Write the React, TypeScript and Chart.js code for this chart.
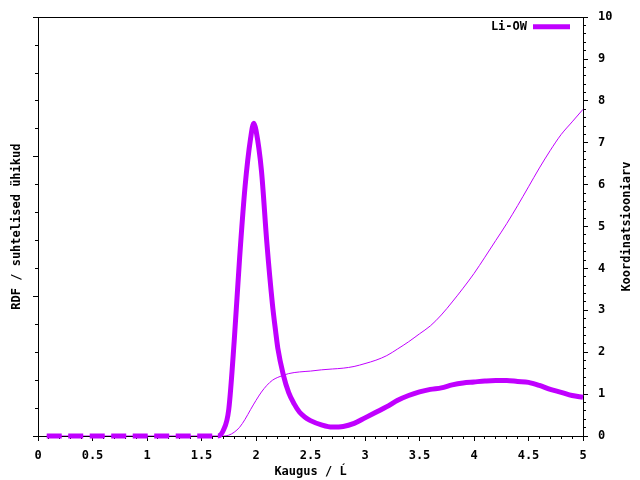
import React, { useEffect, useRef } from 'react';
import { Chart, registerables } from 'chart.js';

Chart.register(...registerables);

// ---- data ----
const rdfLabel = 'Li-OW';
const xTitle = 'Kaugus / Ĺ';
const leftTitle = 'RDF / suhtelised ühikud';
const rightTitle = 'Koordinatsiooniarv';

const rdfDistance = [
  0.08, 0.5, 1.0, 1.5, 1.65, 1.70, 1.75, 1.80, 1.85, 1.90, 1.95, 1.98, 2.00, 2.05, 2.10, 2.15, 2.18,
  2.20, 2.25, 2.30, 2.35, 2.40, 2.45, 2.50, 2.60, 2.70, 2.80, 2.90, 3.00, 3.10, 3.20, 3.30, 3.40,
  3.50, 3.60, 3.70, 3.80, 3.90, 4.00, 4.10, 4.20, 4.30, 4.40, 4.50, 4.60, 4.70, 4.80, 4.90, 5.00,
];
const rdfValues = [
  0, 0, 0, 0, 0, 0.04, 0.19, 0.68, 1.28, 1.79, 2.13, 2.24, 2.19, 1.90, 1.38, 0.95, 0.75,
  0.63, 0.44, 0.31, 0.23, 0.17, 0.135, 0.11, 0.08, 0.064, 0.068, 0.09, 0.13, 0.17, 0.21, 0.256, 0.29,
  0.316, 0.334, 0.345, 0.366, 0.38, 0.387, 0.394, 0.398, 0.398, 0.391, 0.384, 0.362, 0.334, 0.313, 0.29, 0.277,
];

const cnDistance = [
  0.08, 1.0, 1.70, 1.75, 1.80, 1.85, 1.90, 1.95, 2.00, 2.05, 2.10, 2.15, 2.20, 2.30, 2.40, 2.50,
  2.60, 2.70, 2.80, 2.90, 3.00, 3.10, 3.20, 3.30, 3.40, 3.50, 3.60, 3.70, 3.80, 3.90, 4.00, 4.10,
  4.20, 4.30, 4.40, 4.50, 4.60, 4.70, 4.80, 4.90, 5.00,
];
const cnValues = [
  0, 0, 0, 0.02, 0.09, 0.21, 0.40, 0.63, 0.85, 1.05, 1.21, 1.33, 1.40, 1.49, 1.53, 1.55,
  1.58, 1.60, 1.62, 1.66, 1.73, 1.81, 1.92, 2.08, 2.25, 2.44, 2.63, 2.89, 3.20, 3.53, 3.88, 4.27,
  4.67, 5.07, 5.50, 5.95, 6.40, 6.82, 7.20, 7.50, 7.80,
];

const PURPLE = '#c000ff';
const FONT_FAMILY = '"DejaVu Sans Mono", monospace';
const FONT_SIZE = 12;

export default function App() {
  const canvasRef = useRef<HTMLCanvasElement | null>(null);

  useEffect(() => {
    document.body.style.margin = '0';
    const canvas = canvasRef.current;
    if (!canvas) return;

    const font = { family: FONT_FAMILY, size: FONT_SIZE, weight: 'bold' as const };

    const overlay = {
      id: 'overlay',
      afterDraw(chart: any) {
        const { ctx, chartArea } = chart;
        const ds = chart.data.datasets[0];
        ctx.save();
        ctx.font = `bold ${FONT_SIZE}px ${FONT_FAMILY}`;
        ctx.fillStyle = '#000';
        // legend
        const lineRight = chartArea.right - 13;
        const lineLeft = lineRight - 37;
        const ly = chartArea.top + 9.5;
        ctx.strokeStyle = ds.borderColor;
        ctx.lineWidth = 5;
        ctx.lineCap = 'butt';
        ctx.beginPath();
        ctx.moveTo(lineLeft, ly);
        ctx.lineTo(lineRight, ly);
        ctx.stroke();
        ctx.textAlign = 'right';
        ctx.textBaseline = 'middle';
        ctx.fillText(ds.label, lineLeft - 6, ly);
        // right axis title, reading upward
        ctx.translate(chart.width - 13, (chartArea.top + chartArea.bottom) / 2);
        ctx.rotate(-Math.PI / 2);
        ctx.textAlign = 'center';
        ctx.fillText(rightTitle, 0, 0);
        ctx.restore();
      },
    };

    const minorGrid = { drawOnChartArea: false, tickLength: 3, color: '#000', tickColor: '#000' };
    const majorGrid = { drawOnChartArea: false, tickLength: 5, color: '#000', tickColor: '#000' };
    const border = { display: true, color: '#000', width: 1 };

    const chart = new Chart(canvas, {
      type: 'line',
      data: {
        datasets: [
          {
            label: rdfLabel,
            data: rdfDistance.map((x, i) => ({ x, y: rdfValues[i] })),
            xAxisID: 'x',
            yAxisID: 'y',
            borderColor: PURPLE,
            backgroundColor: PURPLE,
            borderWidth: 5,
            pointRadius: 0,
            fill: false,
            clip: false,
            cubicInterpolationMode: 'monotone',
            borderCapStyle: 'butt',
            segment: {
              borderDash: (c: any) =>
                c.p0.parsed.y === 0 && c.p1.parsed.y === 0 ? [15, 6.5] : undefined,
            },
          },
          {
            label: rightTitle,
            data: cnDistance.map((x, i) => ({ x, y: cnValues[i] })),
            xAxisID: 'x',
            yAxisID: 'y1',
            borderColor: PURPLE,
            backgroundColor: PURPLE,
            borderWidth: 1,
            pointRadius: 0,
            fill: false,
            cubicInterpolationMode: 'monotone',
          },
        ],
      },
      options: {
        responsive: false,
        animation: false,
        devicePixelRatio: 1,
        layout: { padding: { top: 14, left: 0, right: 0, bottom: 0 } },
        plugins: {
          legend: { display: false },
          tooltip: { enabled: false },
        },
        scales: {
          x: {
            type: 'linear',
            position: 'bottom',
            weight: 1,
            min: 0,
            max: 5,
            ticks: {
              stepSize: 0.5,
              autoSkip: false,
              maxRotation: 0,
              color: '#000',
              font,
              padding: 8,
              callback: (v: any) => String(Math.round(Number(v) * 10) / 10),
            },
            grid: majorGrid,
            border,
            title: {
              display: true,
              text: xTitle,
              color: '#000',
              font,
              padding: { top: 0, bottom: 1 },
            },
            afterFit: (s: any) => {
              s.height = 44;
            },
          },
          xMinor: {
            type: 'linear',
            position: 'bottom',
            weight: 0,
            min: 0,
            max: 5,
            ticks: { stepSize: 0.1, display: false },
            grid: minorGrid,
            border: { display: false },
            afterFit: (s: any) => {
              s.height = 0;
            },
          },
          xTop: {
            type: 'linear',
            position: 'top',
            min: 0,
            max: 5,
            ticks: { display: false },
            grid: { display: false, drawTicks: false },
            border,
            afterFit: (s: any) => {
              s.height = 0;
            },
          },
          y: {
            type: 'linear',
            position: 'left',
            weight: 1,
            min: 0,
            max: 3,
            ticks: { stepSize: 1, display: false },
            grid: majorGrid,
            border,
            title: {
              display: true,
              text: leftTitle,
              color: '#000',
              font,
              padding: { top: 10, bottom: 0 },
            },
            afterFit: (s: any) => {
              s.width = 38;
            },
          },
          yMinor: {
            type: 'linear',
            position: 'left',
            weight: 0,
            min: 0,
            max: 3,
            ticks: { stepSize: 0.2, display: false },
            grid: minorGrid,
            border: { display: false },
            afterFit: (s: any) => {
              s.width = 0;
            },
          },
          y1: {
            type: 'linear',
            position: 'right',
            weight: 1,
            min: 0,
            max: 10,
            ticks: { stepSize: 1, color: '#000', font, padding: 10 },
            grid: majorGrid,
            border,
            afterFit: (s: any) => {
              s.width = 57;
            },
          },
          y1Minor: {
            type: 'linear',
            position: 'right',
            weight: 0,
            min: 0,
            max: 10,
            ticks: { stepSize: 0.2, display: false },
            grid: minorGrid,
            border: { display: false },
            afterFit: (s: any) => {
              s.width = 0;
            },
          },
        },
      } as any,
      plugins: [overlay],
    });

    return () => {
      chart.destroy();
    };
  }, []);

  return (
    <div style={{ width: 640, height: 480, background: '#fff' }}>
      <canvas ref={canvasRef} width={640} height={480} style={{ display: 'block' }} />
    </div>
  );
}
